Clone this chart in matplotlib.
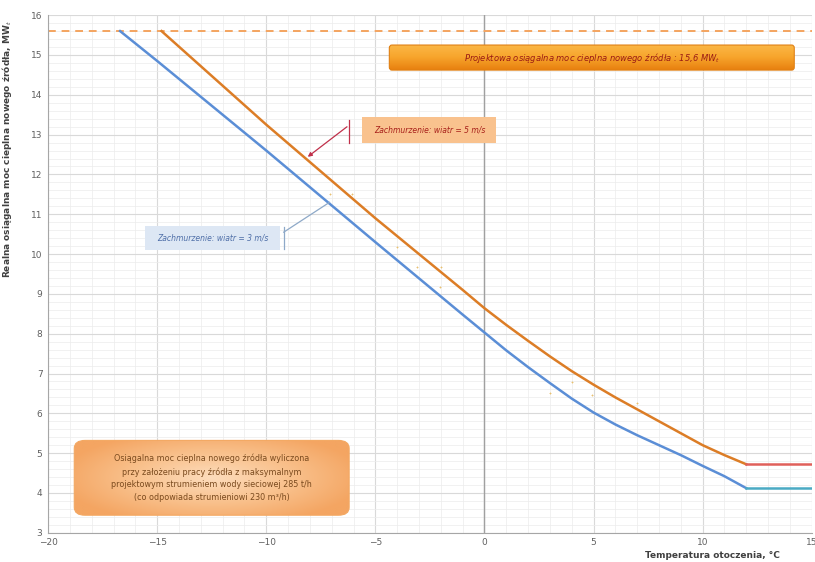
import numpy as np
import matplotlib.pyplot as plt
from matplotlib.patches import FancyBboxPatch
from matplotlib.colors import LinearSegmentedColormap
from matplotlib.ticker import MultipleLocator

# temperatura otoczenia [C] -> moc [MW]
t_wiatr3 = [-16.7, -15, -10, -5, -1, 0, 1, 2, 3, 4, 5, 6, 7, 8, 9, 10, 11, 12]
p_wiatr3 = [15.6, 14.85, 12.6, 10.3, 8.48, 8.03, 7.58, 7.16, 6.76, 6.37, 6.02,
            5.72, 5.45, 5.2, 4.95, 4.68, 4.42, 4.12]
t_wiatr5 = [-14.8, -10, -5, -1, 0, 1, 2, 3, 4, 5, 6, 7, 8, 9, 10, 11, 12]
p_wiatr5 = [15.6, 13.25, 10.9, 9.1, 8.64, 8.22, 7.82, 7.43, 7.06, 6.72, 6.4,
            6.1, 5.8, 5.5, 5.2, 4.95, 4.72]
t_limit = [12, 15]
p_limit3 = [4.12, 4.12]
p_limit5 = [4.72, 4.72]
p_projekt = 15.6

# luzne punkty pomiarowe
t_pkt = [-7.1, -6.05, -4.0, -3.1, -2.0, -2.06, 3.0, 4.0, 4.95, 7.0]
p_pkt = [11.5, 11.5, 10.17, 9.67, 9.67, 9.17, 6.5, 6.78, 6.45, 6.25]

x_ticks = [-20, -15, -10, -5, 0, 5, 10, 15]
y_ticks = list(range(3, 17))


def gradient_box(ax, x0, y0, w, h, colors, rounding, aspect, ec, radial=False):
    patch = FancyBboxPatch((x0, y0), w, h,
                           boxstyle=f'round,pad=0,rounding_size={rounding}',
                           fc='none', ec=ec, lw=0.8, zorder=5, mutation_aspect=aspect)
    ax.add_patch(patch)
    cmap = LinearSegmentedColormap.from_list('g', colors)
    if radial:
        gx, gy = np.meshgrid(np.linspace(-1, 1, 200), np.linspace(-1, 1, 100))
        grad = np.clip(np.sqrt(gx ** 2 * 0.8 + gy ** 2 * 0.6), 0, 1)
    else:
        grad = np.linspace(0, 1, 100)[:, None]
    im = ax.imshow(grad, cmap=cmap, extent=(x0, x0 + w, y0, y0 + h), origin='lower',
                   aspect='auto', zorder=4, interpolation='bicubic', vmin=0, vmax=1)
    im.set_clip_path(patch)
    return patch


fig = plt.figure(figsize=(8.15, 5.62), dpi=100)
ax = fig.add_axes([0.059, 0.052, 0.937, 0.921])

ax.set_xticks(x_ticks)
ax.set_yticks(y_ticks)
ax.xaxis.set_minor_locator(MultipleLocator(1))
ax.yaxis.set_minor_locator(MultipleLocator(0.2))
ax.grid(which='major', color='#d9d9d9', lw=0.8)
ax.grid(which='minor', color='#ececec', lw=0.5)
ax.set_axisbelow(True)
ax.tick_params(which='both', length=0, labelsize=6.5, labelcolor='#606060', pad=4)
for s in ['top', 'right']:
    ax.spines[s].set_visible(False)
for s in ['left', 'bottom']:
    ax.spines[s].set_color('#a6a6a6')
ax.axvline(0, color='#a0a0a0', lw=1, zorder=1)

ax.axhline(p_projekt, color='#f4a460', lw=1.4, ls=(0, (4, 3)), zorder=2)
ax.plot(t_wiatr3, p_wiatr3, color='#5b8ed6', lw=1.8, zorder=3)
ax.plot(t_wiatr5, p_wiatr5, color='#dc7d26', lw=1.8, zorder=3)
ax.plot(t_limit, p_limit3, color='#4aaac4', lw=1.8, zorder=3)
ax.plot(t_limit, p_limit5, color='#e0605a', lw=1.8, zorder=3)
ax.scatter(t_pkt, p_pkt, s=4, marker='+', color='#e8c070', lw=0.6, zorder=2)

ax.set_xlabel('Temperatura otoczenia, °C', fontsize=6.5, fontweight='bold',
              color='#404040')
ax.xaxis.set_label_coords(0.87, -0.035)
ax.set_ylabel('Realna osiągalna moc cieplna nowego źródła, MW$_t$', fontsize=6.5,
              fontweight='bold', color='#404040')
ax.yaxis.set_label_coords(-0.045, 0.99)
ax.yaxis.label.set_horizontalalignment('right')

# ramka z moca projektowa
gradient_box(ax, -4.36, 14.62, 18.56, 0.63, ['#e8800f', '#f7a52c', '#fbb848'],
             0.12, 0.6, '#e07f12')
ax.text(4.92, 14.935, 'Projektowa osiągalna moc cieplna nowego źródła : 15,6 MW$_t$',
        ha='center', va='center', fontsize=6, style='italic', color='#9a1a14', zorder=6)

# opis wiatr 5 m/s
ax.add_patch(FancyBboxPatch((-5.6, 12.78), 6.15, 0.66, boxstyle='square,pad=0',
                            fc='#f9c28e', ec='none', zorder=4))
ax.text(-2.52, 13.11, 'Zachmurzenie: wiatr = 5 m/s', ha='center', va='center',
        fontsize=5.5, style='italic', color='#a8201a', zorder=5)
ax.plot([-6.2, -6.2], [12.78, 13.36], color='#c0304a', lw=0.9, zorder=4)
ax.annotate('', xy=(-8.2, 12.4), xytext=(-6.2, 13.24),
            arrowprops=dict(arrowstyle='-|>', color='#c0304a', lw=0.9,
                            mutation_scale=6), zorder=4)

# opis wiatr 3 m/s
ax.add_patch(FancyBboxPatch((-15.55, 10.1), 6.2, 0.6, boxstyle='square,pad=0',
                            fc='#dde7f4', ec='none', zorder=4))
ax.text(-12.45, 10.4, 'Zachmurzenie: wiatr = 3 m/s', ha='center', va='center',
        fontsize=5.5, style='italic', color='#4f6fa8', zorder=5)
ax.plot([-9.2, -9.2], [10.12, 10.68], color='#8ea9c8', lw=0.9, zorder=4)
ax.plot([-9.2, -7.1], [10.55, 11.3], color='#8ea9c8', lw=0.9, zorder=4)

# ramka z opisem zalozen
gradient_box(ax, -18.8, 3.44, 12.6, 1.88, ['#fddcbc', '#f9c28e', '#f4a562'],
             0.5, 0.4, '#f3a862', radial=True)
ax.text(-12.5, 4.38, 'Osiągalna moc cieplna nowego źródła wyliczona\n'
        'przy założeniu pracy źródła z maksymalnym\n'
        'projektowym strumieniem wody sieciowej 285 t/h\n'
        '(co odpowiada strumieniowi 230 m³/h)',
        ha='center', va='center', fontsize=5.8, color='#7a4a1e', linespacing=1.5, zorder=6)

ax.set_xlim(-20, 15)
ax.set_ylim(3, 16)

fig.savefig('out.png')
